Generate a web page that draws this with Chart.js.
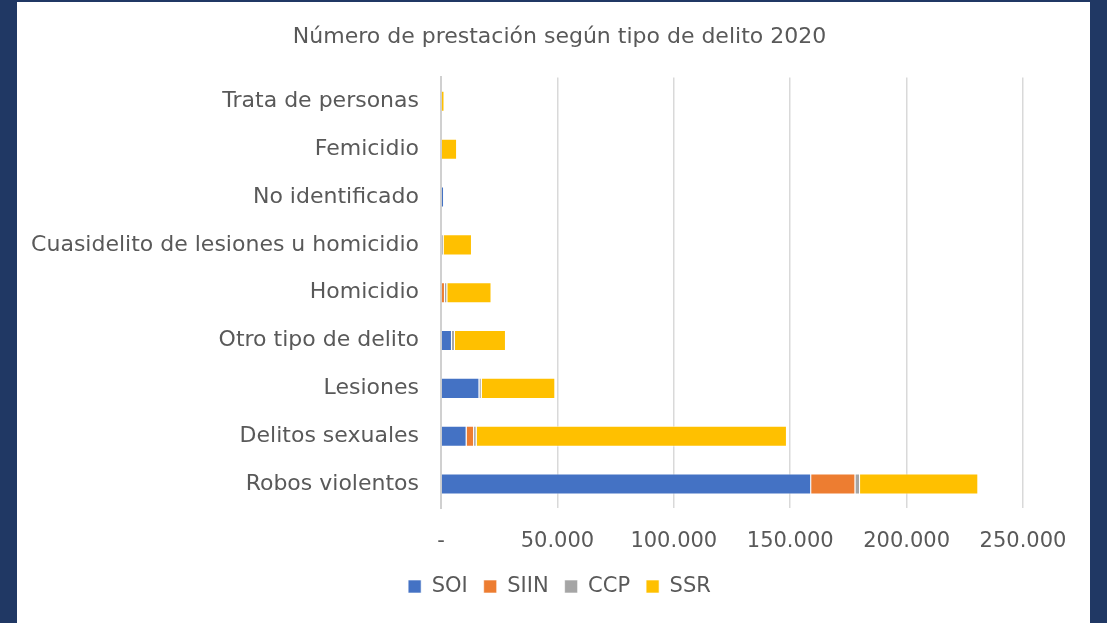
<!DOCTYPE html>
<html>
<head>
<meta charset="utf-8">
<title>Número de prestación según tipo de delito 2020</title>
<script src="https://cdn.jsdelivr.net/npm/chart.js@4/dist/chart.umd.min.js"></script>
<style>
  html, body { margin: 0; padding: 0; }
  body { background: #203864; width: 1107px; height: 623px; overflow: hidden; }
  #panel { position: absolute; left: 17px; top: 2px; width: 1073px; height: 621px; background: #fff; }
</style>
</head>
<body>
<div id="panel"><canvas id="chart" width="1073" height="621"></canvas></div>
<script>
const categories = [
  'Trata de personas',
  'Femicidio',
  'No identificado',
  'Cuasidelito de lesiones u homicidio',
  'Homicidio',
  'Otro tipo de delito',
  'Lesiones',
  'Delitos sexuales',
  'Robos violentos'
];
const soi  = [0, 0, 1300, 0, 0, 4700, 16500, 11000, 159000];
const siin = [0, 0, 0, 400, 1700, 0, 0, 3200, 19000];
const ccp  = [0, 0, 0, 700, 1000, 1300, 1000, 1100, 2000];
const ssr  = [1500, 6900, 0, 12200, 19000, 21900, 31600, 133300, 50800];
const tickValues = [0, 50000, 100000, 150000, 200000, 250000];

const textColor = '#595959';
const font = "'DejaVu Sans', Verdana, sans-serif";

function fmt(v) {
  if (v === 0) return '-';
  return String(v).replace(/\B(?=(\d{3})+(?!\d))/g, '.');
}

function series(label, data, color) {
  return {
    label: label,
    data: data,
    backgroundColor: color,
    borderColor: 'rgba(255,255,255,0.6)',
    borderWidth: 1,
    barPercentage: 0.44,
    categoryPercentage: 1
  };
}

new Chart(document.getElementById('chart'), {
  type: 'bar',
  data: {
    labels: categories,
    datasets: [
      series('SOI', soi, '#4472C4'),
      series('SIIN', siin, '#ED7D31'),
      series('CCP', ccp, '#A5A5A5'),
      series('SSR', ssr, '#FFC000')
    ]
  },
  options: {
    indexAxis: 'y',
    responsive: false,
    animation: false,
    layout: { padding: { left: 12, right: 0, top: 0, bottom: 16 } },
    plugins: {
      title: {
        display: true,
        text: 'Número de prestación según tipo de delito 2020',
        color: textColor,
        font: { family: font, size: 22, weight: 'normal' },
        padding: { top: 22, bottom: 27 }
      },
      legend: {
        position: 'bottom',
        labels: {
          color: textColor,
          font: { family: font, size: 21 },
          boxWidth: 13,
          boxHeight: 13,
          padding: 16
        }
      },
      tooltip: { enabled: false }
    },
    scales: {
      x: {
        stacked: true,
        min: 0,
        max: 250000,
        afterBuildTicks: function (axis) {
          axis.ticks = tickValues.map(v => ({ value: v }));
        },
        afterFit: function (scale) { scale.height = 52; },
        ticks: {
          color: textColor,
          font: { family: font, size: 21 },
          padding: 21,
          maxRotation: 0,
          callback: v => fmt(v)
        },
        grid: { color: '#D9D9D9', lineWidth: 1.5, drawTicks: false },
        border: { display: false }
      },
      y: {
        stacked: true,
        afterFit: function (scale) { scale.width = 412; },
        ticks: {
          color: textColor,
          font: { family: font, size: 22 },
          padding: 22
        },
        grid: { display: false, drawTicks: false },
        border: { display: true, color: '#D0D0D0', width: 2 }
      },
      yRight: {
        type: 'category',
        axis: 'y',
        position: 'right',
        afterFit: function (scale) { scale.width = 67; },
        ticks: { display: false },
        grid: { display: false, drawTicks: false },
        border: { display: false }
      }
    }
  }
});
</script>
</body>
</html>
